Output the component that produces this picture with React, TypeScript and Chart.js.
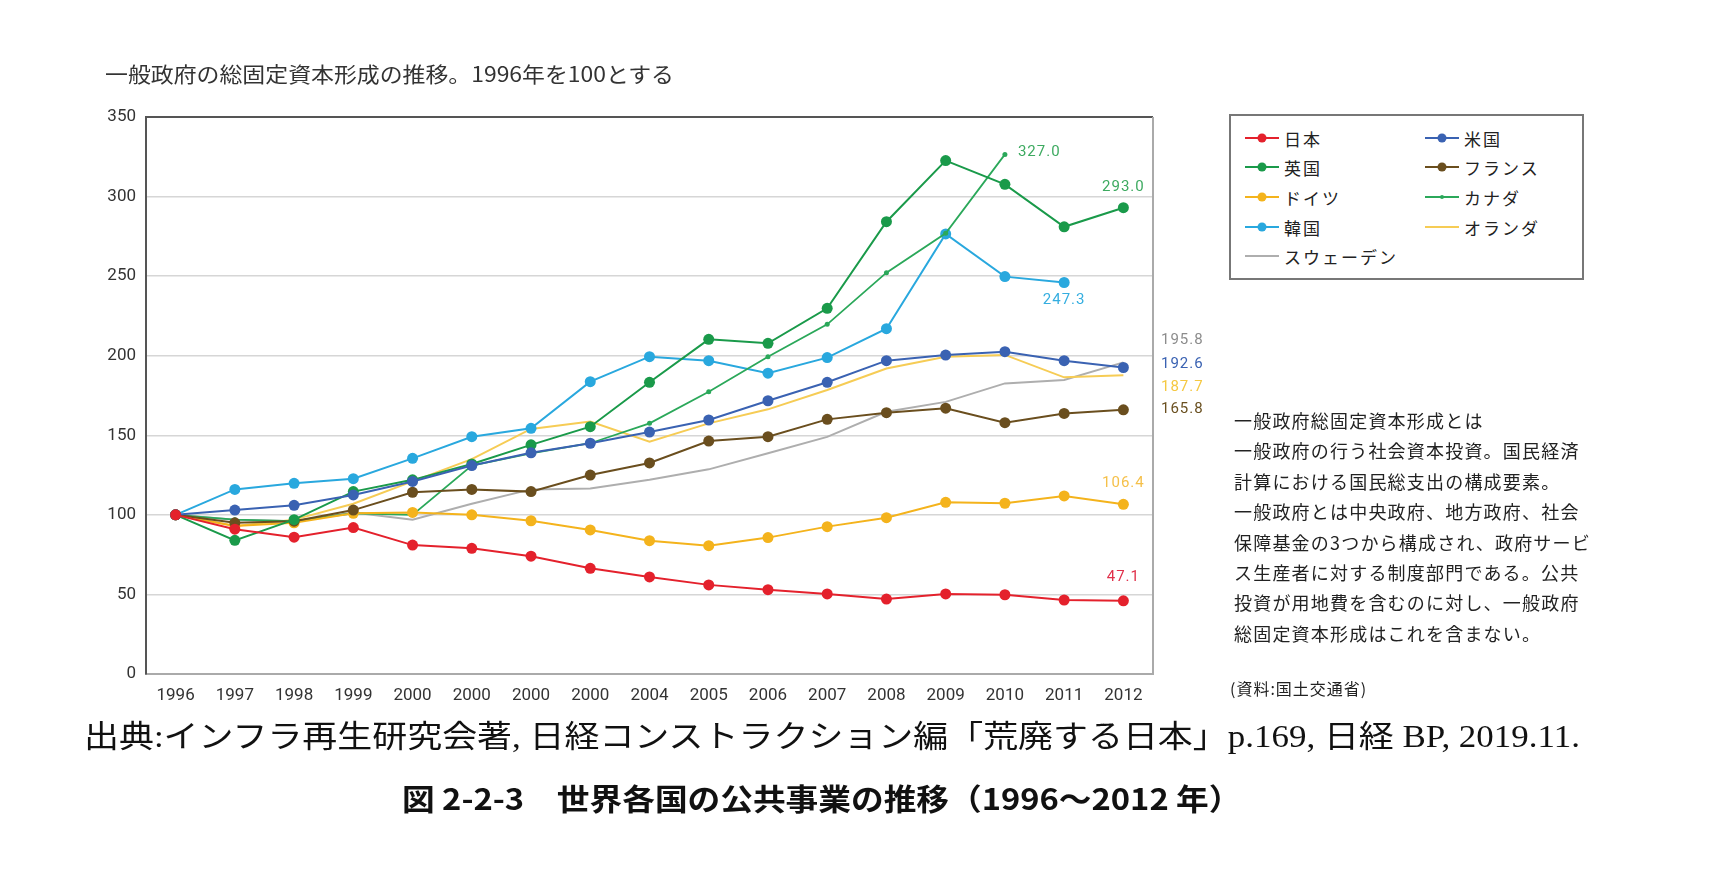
import { useEffect, useLayoutEffect, useRef, useState } from "react";
import { Chart, registerables } from "chart.js";

Chart.register(...registerables);

// 年（元の図の誤記「2000」をそのまま残す）
const years = ["1996", "1997", "1998", "1999", "2000", "2000", "2000", "2000", "2004", "2005", "2006", "2007", "2008", "2009", "2010", "2011", "2012"];

const japan = [100, 91, 86, 92, 81, 79, 74, 66.4, 61, 56, 53, 50.3, 47.1, 50.3, 49.8, 46.5, 46];
const usa = [100, 103, 106, 112.5, 121, 131, 139, 145, 152, 159.6, 171.7, 183.3, 196.9, 200.4, 202.5, 196.9, 192.6];
const uk = [100, 84, 97, 114.6, 122, 132, 144, 155.4, 183.3, 210.3, 207.8, 229.8, 284.2, 322.6, 307.7, 281, 293];
const france = [100, 95, 96, 103, 114.2, 116, 114.6, 125, 132.6, 146.4, 149.1, 160, 164.2, 167, 157.9, 163.7, 166];
const germany = [100, 93, 95, 101, 101.5, 100, 96.3, 90.5, 83.8, 80.6, 85.7, 92.6, 98.2, 107.9, 107.3, 111.9, 106.6];
const canada = [100, 97, 96, 101, 100, 131, 138.7, 145, 157.5, 177.4, 199.4, 219.7, 252.2, 276.9, 326.5, null, null];
const korea = [100, 116, 119.8, 122.7, 135.5, 149.1, 154.4, 183.7, 199.4, 196.9, 189, 198.8, 217, 276.5, 249.7, 246, null];
const netherlands = [100, 93, 97, 107, 121, 135, 154, 158.6, 146, 157.5, 166.3, 178.5, 192, 199.4, 200.5, 186.4, 187.7];
const sweden = [100, 97, 96, 101.5, 97, 107, 116, 116.5, 122, 128.6, 138.7, 149, 164.8, 171, 182.6, 184.7, 195.8];

const yTicks = [0, 50, 100, 150, 200, 250, 300, 350];

const series = [
  { name: "日本", data: japan, color: "#E4212C", radius: 5.5, width: 2 },
  { name: "米国", data: usa, color: "#3A62B2", radius: 5.5, width: 2 },
  { name: "英国", data: uk, color: "#1A9A4A", radius: 5.5, width: 2 },
  { name: "フランス", data: france, color: "#6A4E1E", radius: 5.5, width: 2 },
  { name: "ドイツ", data: germany, color: "#F4B31C", radius: 5.5, width: 2 },
  { name: "カナダ", data: canada, color: "#2BA85A", radius: 2.5, width: 1.8 },
  { name: "韓国", data: korea, color: "#29A8DE", radius: 5.5, width: 2 },
  { name: "オランダ", data: netherlands, color: "#F6CC55", radius: 0, width: 2 },
  { name: "スウェーデン", data: sweden, color: "#AEAEAE", radius: 0, width: 2 },
];

// 系列の点に添える数値ラベル
const pointLabels = [
  { text: "327.0", series: 5, index: 14, color: "#3DAA60", align: "left", dx: 13, dy: -2 },
  { text: "293.0", series: 2, index: 16, color: "#3DAA60", align: "center", dx: 0, dy: -20 },
  { text: "247.3", series: 6, index: 15, color: "#35AEE0", align: "center", dx: 0, dy: 18 },
  { text: "106.4", series: 4, index: 16, color: "#F5C04A", align: "center", dx: 0, dy: -21 },
  { text: "47.1", series: 0, index: 16, color: "#E0304A", align: "center", dx: 0, dy: -24 },
];

// 枠の右に並ぶラベル
const sideLabels = [
  { text: "195.8", color: "#8C8C8C", dy: 223 },
  { text: "192.6", color: "#3A62B2", dy: 247 },
  { text: "187.7", color: "#F5C842", dy: 270 },
  { text: "165.8", color: "#6A5020", dy: 292 },
];

const noteLines = [
  "一般政府総固定資本形成とは",
  "一般政府の行う社会資本投資。国民経済",
  "計算における国民総支出の構成要素。",
  "一般政府とは中央政府、地方政府、社会",
  "保障基金の3つから構成され、政府サービ",
  "ス生産者に対する制度部門である。公共",
  "投資が用地費を含むのに対し、一般政府",
  "総固定資本形成はこれを含まない。",
];

const overlayPlugin = {
  id: "overlay",
  afterDraw(chart: any) {
    const { ctx, chartArea, scales } = chart;
    ctx.save();
    ctx.strokeStyle = "#aaaaaa";
    ctx.lineWidth = 2;
    ctx.beginPath();
    ctx.moveTo(chartArea.right, chartArea.top);
    ctx.lineTo(chartArea.right, chartArea.bottom);
    ctx.stroke();

    ctx.font = "15px Roboto";
    (ctx as any).letterSpacing = "1px";
    ctx.textBaseline = "middle";
    for (const l of pointLabels) {
      const v = series[l.series].data[l.index] as number;
      const x = scales.x.getPixelForValue(l.index) + l.dx;
      const y = scales.y.getPixelForValue(v) + l.dy;
      ctx.fillStyle = l.color;
      ctx.textAlign = l.align;
      ctx.fillText(l.text, x, y);
    }
    ctx.textAlign = "left";
    for (const l of sideLabels) {
      ctx.fillStyle = l.color;
      ctx.fillText(l.text, chartArea.right + 8, chartArea.top + l.dy);
    }
    ctx.restore();
  },
};

function FitText({ left, top, width, style, children }: any) {
  const ref = useRef<HTMLSpanElement>(null);
  const [sx, setSx] = useState(1);
  useLayoutEffect(() => {
    const measure = () => {
      if (ref.current && ref.current.offsetWidth > 0) setSx(width / ref.current.offsetWidth);
    };
    measure();
    document.fonts?.ready.then(measure);
  }, [width]);
  return (
    <div style={{ position: "absolute", left, top, whiteSpace: "nowrap" }}>
      <span
        ref={ref}
        style={{ display: "inline-block", transform: `scaleX(${sx})`, transformOrigin: "0 0", ...style }}
      >
        {children}
      </span>
    </div>
  );
}

function LegendSymbol({ color, radius }: { color: string; radius: number }) {
  return (
    <svg width="34" height="12" style={{ display: "block" }}>
      <line x1="0" y1="6" x2="34" y2="6" stroke={color} strokeWidth="2" />
      {radius > 0 && <circle cx="17" cy="6" r={radius > 3 ? 4.5 : 2} fill={color} />}
    </svg>
  );
}

const jp = '"Noto Sans CJK JP", sans-serif';

export default function App() {
  const canvasRef = useRef<HTMLCanvasElement>(null);
  const chartRef = useRef<Chart | null>(null);

  useEffect(() => {
    if (!canvasRef.current) return;
    if (chartRef.current) {
      chartRef.current.destroy();
      chartRef.current = null;
    }

    chartRef.current = new Chart(canvasRef.current, {
      type: "line",
      data: {
        labels: years,
        datasets: series.map((s) => ({
          label: s.name,
          data: s.data,
          borderColor: s.color,
          backgroundColor: s.color,
          borderWidth: s.width,
          pointRadius: s.radius,
          pointBackgroundColor: s.color,
          pointBorderWidth: 0,
          pointHoverRadius: s.radius,
          tension: 0,
          fill: false,
          spanGaps: false,
        })),
      },
      options: {
        responsive: true,
        maintainAspectRatio: false,
        animation: false,
        layout: { padding: { left: 95, top: 117, right: 577, bottom: 162 } },
        plugins: {
          legend: { display: false },
          tooltip: { enabled: false },
        },
        scales: {
          x: {
            type: "category",
            offset: true,
            afterFit: (scale: any) => {
              scale.height = 40;
            },
            grid: { display: false },
            border: { display: true, color: "#aaaaaa", width: 2 },
            ticks: {
              color: "#333",
              font: { family: "Roboto", size: 17 },
              padding: 4,
              maxRotation: 0,
              autoSkip: false,
            },
          },
          y: {
            min: 0,
            max: 350,
            afterFit: (scale: any) => {
              scale.width = 51;
            },
            afterBuildTicks: (scale: any) => {
              scale.ticks = yTicks.map((v) => ({ value: v }));
            },
            grid: {
              drawTicks: false,
              color: (c: any) =>
                c.tick?.value === 350 ? "#555555" : c.tick?.value === 0 ? "#aaaaaa" : "#d6d6d6",
              lineWidth: (c: any) => (c.tick?.value === 350 ? 2 : 1.5),
            },
            border: { color: "#555555", width: 2 },
            ticks: {
              color: "#333",
              font: { family: "Roboto", size: 17 },
              padding: 10,
            },
          },
        },
      },
      plugins: [overlayPlugin],
    });

    return () => {
      chartRef.current?.destroy();
      chartRef.current = null;
    };
  }, []);

  const legendRows = [
    [0, 1],
    [2, 3],
    [4, 5],
    [6, 7],
    [8],
  ];
  const rowY = [24, 53, 83, 113, 142];

  return (
    <div
      style={{
        position: "absolute",
        left: 0,
        top: 0,
        width: 1730,
        height: 876,
        background: "#fff",
        overflow: "hidden",
      }}
    >
      <div style={{ position: "absolute", left: 0, top: 0, width: 1730, height: 876 }}>
        <canvas ref={canvasRef} />
      </div>

      <FitText left={105} top={60} width={569} style={{ fontFamily: jp, fontSize: 21, lineHeight: "26px", color: "#333" }}>
        一般政府の総固定資本形成の推移。1996年を100とする
      </FitText>

      {/* 凡例 */}
      <div
        style={{
          position: "absolute",
          left: 1229,
          top: 114,
          width: 355,
          height: 166,
          boxSizing: "border-box",
          border: "2px solid #777",
          background: "#fff",
        }}
      >
        {legendRows.map((row, r) =>
          row.map((si, c) => (
            <div
              key={si}
              style={{
                position: "absolute",
                left: c === 0 ? 14 : 194,
                top: rowY[r] - 2 - 13,
                height: 26,
                display: "flex",
                alignItems: "center",
                gap: 5,
                fontFamily: jp,
                fontSize: 17,
                letterSpacing: 2,
                color: "#222",
                whiteSpace: "nowrap",
              }}
            >
              <LegendSymbol color={series[si].color} radius={series[si].radius} />
              <span>{series[si].name}</span>
            </div>
          ))
        )}
      </div>

      {/* 注記 */}
      {noteLines.map((t, i) => (
        <div
          key={i}
          style={{
            position: "absolute",
            left: 1234,
            top: 420 + i * 30.4 - 13,
            height: 26,
            lineHeight: "26px",
            fontFamily: jp,
            fontSize: 18,
            letterSpacing: 1.2,
            color: "#222",
            whiteSpace: "nowrap",
          }}
        >
          {t}
        </div>
      ))}
      <div
        style={{
          position: "absolute",
          left: 1230,
          top: 688 - 13,
          lineHeight: "26px",
          fontFamily: jp,
          fontSize: 16,
          letterSpacing: 1,
          color: "#222",
          whiteSpace: "nowrap",
        }}
      >
        (資料:国土交通省)
      </div>

      <FitText
        left={84}
        top={737 - 20}
        width={1496}
        style={{ fontFamily: '"Liberation Serif", "Noto Sans CJK JP", serif', fontSize: 31, lineHeight: "40px", color: "#111" }}
      >
        出典:インフラ再生研究会著, 日経コンストラクション編「荒廃する日本」p.169, 日経 BP, 2019.11.
      </FitText>

      <FitText
        left={402}
        top={797 - 20}
        width={840}
        style={{ fontFamily: jp, fontWeight: 700, fontSize: 30, lineHeight: "40px", color: "#111" }}
      >
        図 2-2-3　世界各国の公共事業の推移（1996～2012 年）
      </FitText>
    </div>
  );
}
